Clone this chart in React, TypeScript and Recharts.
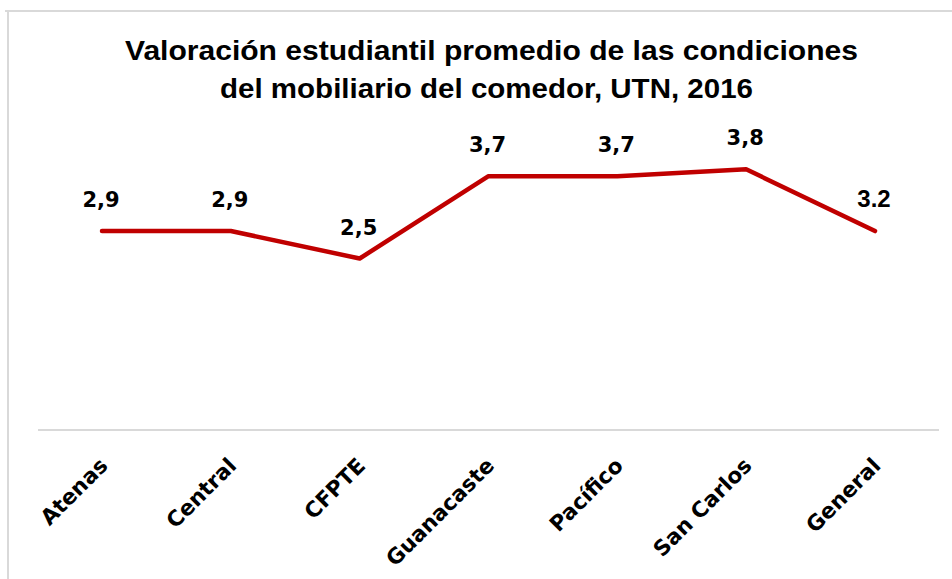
import React from "react";
import { LineChart, Line, XAxis, YAxis } from "recharts";

const categories = ["Atenas", "Central", "CFPTE", "Guanacaste", "Pacífico", "San Carlos", "General"];
const values = [2.9, 2.9, 2.5, 3.7, 3.7, 3.8, 2.9];
const valueLabels = ["2,9", "2,9", "2,5", "3,7", "3,7", "3,8", "3.2"];
const titleLines = [
  "Valoración estudiantil promedio de las condiciones",
  "del mobiliario del comedor, UTN, 2016",
];

const data = categories.map((name, i) => ({ name, value: values[i] }));

const LABEL_FONT = "'DejaVu Sans', sans-serif";

const Tick = (props: any) => {
  const { x, y, payload } = props;
  return (
    <g transform={`translate(${x + 7},${y + 29})`}>
      <text
        x={0}
        y={0}
        textAnchor="end"
        transform="rotate(-45)"
        fontFamily={LABEL_FONT}
        fontWeight="bold"
        fontSize={21.5}
        fill="#000"
      >
        {payload.value}
      </text>
    </g>
  );
};

const ValueLabel = (props: any) => {
  const { x, y, index } = props;
  const text = valueLabels[index];
  const isLast = index === valueLabels.length - 1;
  return (
    <text
      x={x - 1}
      y={y - 24}
      textAnchor="middle"
      fontFamily={isLast ? "'Liberation Sans', Arial, sans-serif" : LABEL_FONT}
      fontWeight="bold"
      fontSize={isLast ? 24 : 21}
      fill="#000"
    >
      {text}
    </text>
  );
};

export default function App() {
  return (
    <div style={{ position: "absolute", left: 0, top: 0, width: 952, height: 579, background: "#fff" }}>
      <div style={{ position: "absolute", left: 0, top: 0 }}>
        <LineChart
          width={952}
          height={579}
          data={data}
          margin={{ top: 87, right: 13, bottom: 9, left: 38 }}
        >
          <XAxis
            dataKey="name"
            interval={0}
            height={140}
            padding={{ left: 64, right: 64 }}
            tickLine={false}
            axisLine={{ stroke: "#d9d9d9", strokeWidth: 2 }}
            tick={<Tick />}
          />
          <YAxis hide domain={[0, 5]} />
          <Line
            type="linear"
            dataKey="value"
            stroke="#c00000"
            strokeWidth={4.5}
            strokeLinecap="round"
            strokeLinejoin="round"
            dot={false}
            activeDot={false}
            isAnimationActive={false}
            label={<ValueLabel />}
          />
        </LineChart>
      </div>
      <svg
        width={952}
        height={579}
        style={{ position: "absolute", left: 0, top: 0, pointerEvents: "none" }}
      >
        <line x1={5} y1={11} x2={952} y2={11} stroke="#d9d9d9" strokeWidth={2} />
        <line x1={8} y1={10} x2={8} y2={579} stroke="#d9d9d9" strokeWidth={2} />
        <text
          x={491.5}
          y={60}
          textAnchor="middle"
          fontFamily="'Liberation Sans', Arial, sans-serif"
          fontWeight="bold"
          fontSize={28}
          textLength={733}
          lengthAdjust="spacingAndGlyphs"
          fill="#000"
        >
          {titleLines[0]}
        </text>
        <text
          x={486.5}
          y={98}
          textAnchor="middle"
          fontFamily="'Liberation Sans', Arial, sans-serif"
          fontWeight="bold"
          fontSize={28}
          textLength={533}
          lengthAdjust="spacingAndGlyphs"
          fill="#000"
        >
          {titleLines[1]}
        </text>
      </svg>
    </div>
  );
}
